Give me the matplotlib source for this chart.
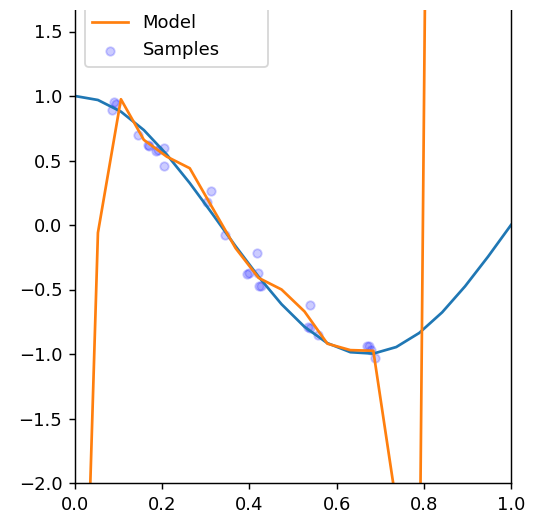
import matplotlib
matplotlib.use("Agg")
import matplotlib.pyplot as plt
from matplotlib.patches import Rectangle

# grid on which the curves are drawn
x_grid = [0.0, 0.0526, 0.1053, 0.1579, 0.2105, 0.2632, 0.3158, 0.3684, 0.4211, 0.4737,
          0.5263, 0.5789, 0.6316, 0.6842, 0.7368, 0.7895, 0.8421, 0.8947, 0.9474, 1.0]

# true function values
y_true = [1.0, 0.969, 0.879, 0.736, 0.546, 0.325, 0.083, -0.165, -0.401, -0.614,
          -0.789, -0.916, -0.986, -0.997, -0.946, -0.837, -0.677, -0.475, -0.245, 0.0]

# model (overfit polynomial) values, the ends run far off the plot
y_model = [-5.9, -0.06, 0.975, 0.66, 0.53, 0.44, 0.13, -0.18, -0.41, -0.50,
           -0.67, -0.92, -0.97, -0.975, -2.16, -3.1, 16.3, 60.0, 120.0, 200.0]

# noisy samples
x_samples = [0.086, 0.090, 0.094, 0.145, 0.168, 0.170, 0.186, 0.190, 0.203, 0.205,
             0.302, 0.312, 0.344, 0.395, 0.399, 0.418, 0.420, 0.423, 0.426, 0.535,
             0.540, 0.558, 0.539, 0.669, 0.675, 0.680, 0.688]
y_samples = [0.89, 0.956, 0.94, 0.70, 0.62, 0.61, 0.57, 0.585, 0.595, 0.457,
             0.18, 0.264, -0.075, -0.38, -0.375, -0.22, -0.375, -0.47, -0.47, -0.79,
             -0.80, -0.85, -0.62, -0.94, -0.94, -0.97, -1.03]

DPI = 130
fig = plt.figure(figsize=(541 / DPI, 523 / DPI), dpi=DPI)
# the original is cropped at the top, so the axes run past the figure edge
ax = fig.add_axes([75 / 541, 40 / 523, 436 / 541, 516 / 523])

ax.plot(x_grid, y_true, label="True function")
ax.plot(x_grid, y_model, label="Model")
ax.scatter(x_samples, y_samples, color="b", edgecolor="b", s=22, alpha=0.2, label="Samples")

ax.set_xlim(0, 1)
ax.set_ylim(-2, 2)
ax.set_yticks([-2.0, -1.5, -1.0, -0.5, 0.0, 0.5, 1.0, 1.5])
ax.legend(loc="upper left", bbox_to_anchor=(0.002, 0.992))

# white band over the cropped top
fig.patches.append(Rectangle((0, 1 - 10 / 523), 1, 10 / 523, transform=fig.transFigure,
                             facecolor="white", edgecolor="none", zorder=10))

fig.savefig("out.png", dpi=DPI)
